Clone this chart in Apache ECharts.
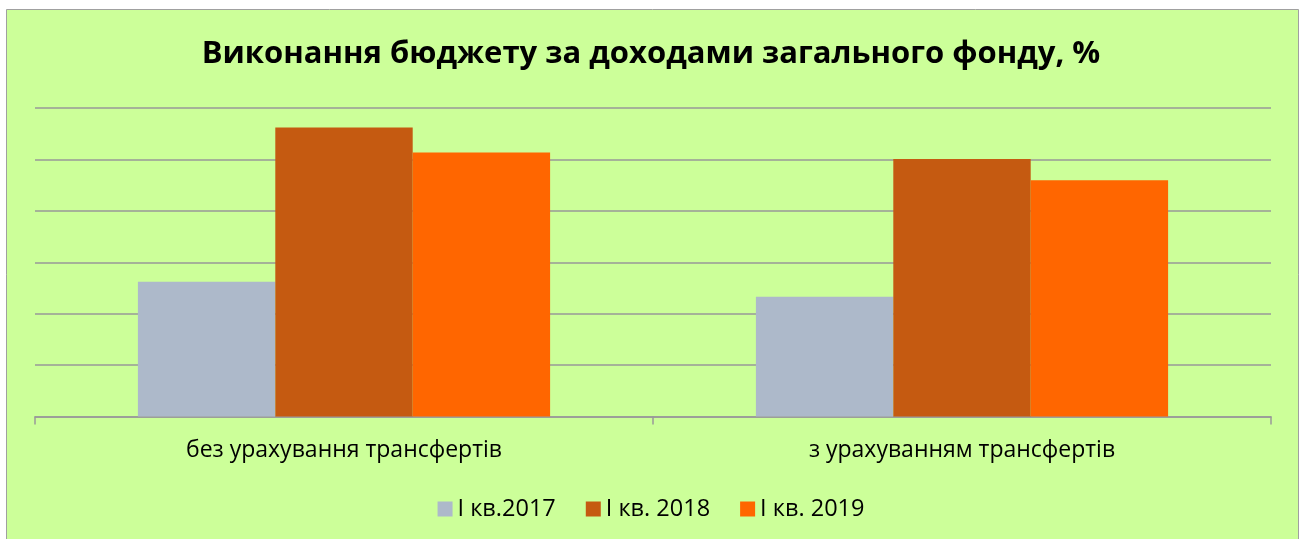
<!DOCTYPE html>
<html>
<head>
<meta charset="utf-8">
<script src="https://cdn.jsdelivr.net/npm/echarts@6/dist/echarts.min.js"></script>
<style>
html,body{margin:0;padding:0;background:#fff;}
#chart{width:1302px;height:539px;}
</style>
</head>
<body>
<div id="chart"></div>
<script>
const titleText = 'Виконання бюджету за доходами загального фонду, %';
const categories = ['без урахування трансфертів', 'з урахуванням трансфертів'];
const seriesNames = ['І кв.2017', 'І кв. 2018', 'І кв. 2019'];
const values2017 = [52.4, 46.6];
const values2018 = [112.4, 100.2];
const values2019 = [102.7, 91.9];
const colors = ['#ADB9CA', '#C55A11', '#FF6600'];

const font = '"Open Sans", "Noto Sans", sans-serif';
const chart = echarts.init(document.getElementById('chart'));
chart.setOption({
  animation: false,
  textStyle: { fontFamily: font },
  graphic: [{
    type: 'rect', z: -10, silent: true,
    shape: { x: 6.5, y: 9.5, width: 1292, height: 540 },
    style: { fill: '#CCFF99', stroke: '#A0A0A0', lineWidth: 1 }
  }],
  title: {
    text: titleText, left: 'center', top: 34,
    textStyle: { fontFamily: font, fontWeight: 'bold', fontSize: 31, color: '#000' }
  },
  legend: {
    data: seriesNames, bottom: 13, left: 'center',
    itemWidth: 15, itemHeight: 15, itemGap: 30, icon: 'rect',
    textStyle: { fontFamily: font, fontSize: 23.5, color: '#000' }
  },
  grid: { left: 35, right: 31, top: 108, bottom: 122.5 },
  xAxis: {
    type: 'category', data: categories,
    axisLine: { lineStyle: { color: '#999', width: 1.5 } },
    axisTick: { show: true, length: 8, lineStyle: { color: '#999', width: 1.5 } },
    axisLabel: { fontFamily: font, fontSize: 23, color: '#000', margin: 22 }
  },
  yAxis: {
    type: 'value', min: 0, max: 120, interval: 20,
    axisLabel: { show: false }, axisLine: { show: false }, axisTick: { show: false },
    splitLine: { lineStyle: { color: '#999', width: 1.5 } }
  },
  series: [
    { name: seriesNames[0], type: 'bar', data: values2017, itemStyle: { color: colors[0] }, barGap: '0%', barCategoryGap: '33.3%' },
    { name: seriesNames[1], type: 'bar', data: values2018, itemStyle: { color: colors[1] } },
    { name: seriesNames[2], type: 'bar', data: values2019, itemStyle: { color: colors[2] } }
  ]
});
</script>
</body>
</html>
